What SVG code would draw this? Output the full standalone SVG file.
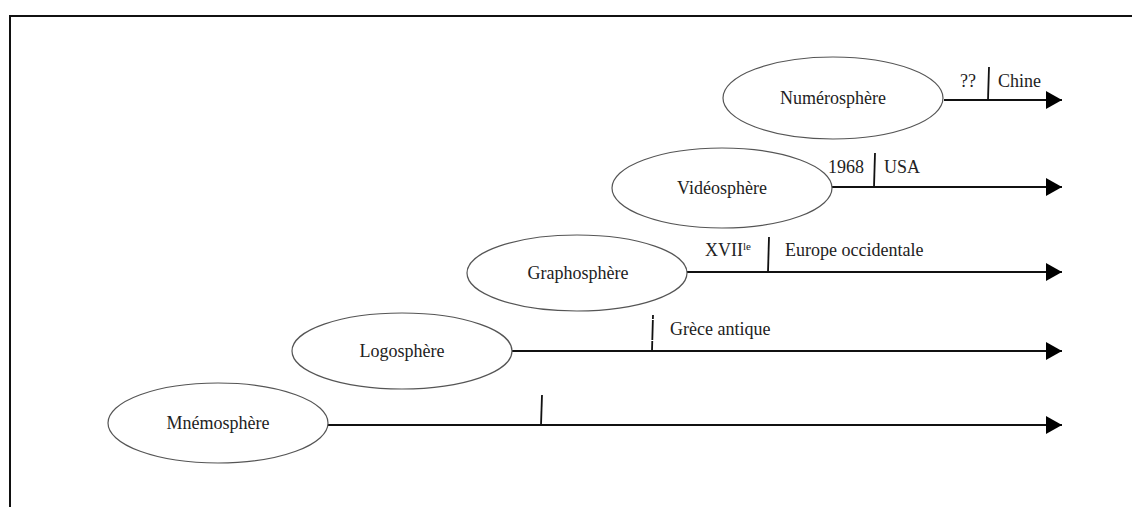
<svg xmlns="http://www.w3.org/2000/svg" width="1132" height="507" viewBox="0 0 1132 507">
  <style>
    .frame { fill: none; stroke: #111; stroke-width: 2; }
    .sphere { fill: #fff; stroke: #555; stroke-width: 1.2; }
    .axis { fill: none; stroke: #111; stroke-width: 2; }
    .tick { fill: none; stroke: #111; stroke-width: 1.8; }
    text { font-family: "Liberation Serif", "DejaVu Serif", serif; font-size: 18px; fill: #222; }
    .name { text-anchor: middle; }
    .sup { font-size: 11px; }
  </style>
  <defs>
    <marker id="head" viewBox="0 0 16 18" refX="16" refY="9" markerWidth="16" markerHeight="18" markerUnits="userSpaceOnUse" orient="auto">
      <path d="M0,0 L16,9 L0,18 Z" fill="#000"/>
    </marker>
  </defs>

  <rect width="1132" height="507" fill="#fff"/>
  <!-- outer frame: top and left edges only -->
  <path class="frame" d="M10,507 V16 H1132"/>

  <!-- timelines -->
  <g id="connectors">
    <line class="axis" x1="944" y1="100" x2="1062" y2="100" marker-end="url(#head)"/>
    <line class="axis" x1="832" y1="187" x2="1062" y2="187" marker-end="url(#head)"/>
    <line class="axis" x1="687" y1="272" x2="1062" y2="272" marker-end="url(#head)"/>
    <line class="axis" x1="512" y1="351" x2="1062" y2="351" marker-end="url(#head)"/>
    <line class="axis" x1="328" y1="425" x2="1062" y2="425" marker-end="url(#head)"/>
    <!-- start markers on each line -->
    <line class="tick" x1="989" y1="67" x2="988" y2="100"/>
    <line class="tick" x1="875" y1="153" x2="874" y2="187"/>
    <line class="tick" x1="769" y1="237" x2="768" y2="272"/>
    <line class="tick" x1="653" y1="315" x2="652" y2="351" stroke-dasharray="4 1 20 1 12"/>
    <line class="tick" x1="542" y1="395" x2="541" y2="425"/>
  </g>

  <g id="numerosphere">
    <ellipse class="sphere" cx="833" cy="98" rx="110" ry="41"/>
    <text class="name" x="833" y="104">Numérosphère</text>
    <text x="960" y="87">??</text>
    <text x="998" y="87">Chine</text>
  </g>

  <g id="videosphere">
    <ellipse class="sphere" cx="722" cy="188" rx="110" ry="40"/>
    <text class="name" x="722" y="194">Vidéosphère</text>
    <text x="828" y="173">1968</text>
    <text x="884" y="173">USA</text>
  </g>

  <g id="graphosphere">
    <ellipse class="sphere" cx="577" cy="273" rx="110" ry="38"/>
    <text class="name" x="578" y="279">Graphosphère</text>
    <text x="705" y="256">XVII<tspan class="sup" dy="-6">le</tspan></text>
    <text x="785" y="256">Europe occidentale</text>
  </g>

  <g id="logosphere">
    <ellipse class="sphere" cx="402" cy="351" rx="110" ry="38"/>
    <text class="name" x="402" y="357">Logosphère</text>
    <text x="670" y="335">Grèce antique</text>
  </g>

  <g id="mnemosphere">
    <ellipse class="sphere" cx="218" cy="423" rx="110" ry="40"/>
    <text class="name" x="218" y="429">Mnémosphère</text>
  </g>
</svg>
